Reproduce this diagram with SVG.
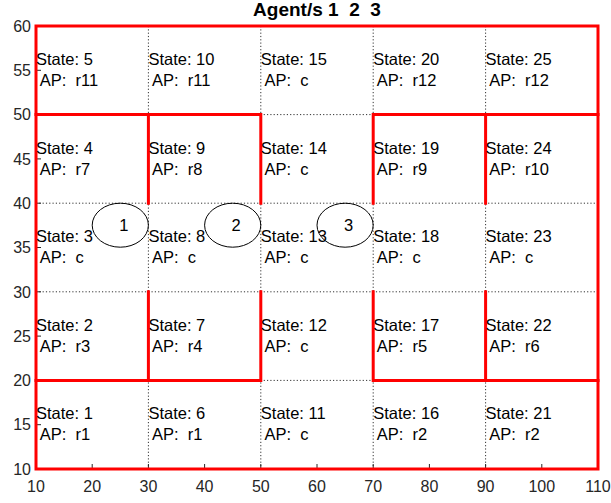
<svg xmlns="http://www.w3.org/2000/svg" width="611" height="503" viewBox="0 0 611 503">
<style>
text{font-family:"Liberation Sans",Arial,Helvetica,sans-serif;white-space:pre}
.st{font-size:16.5px;fill:#000}
.tk{font-size:16px;fill:#262626}
.yt{text-anchor:end}
.xt{text-anchor:middle}
.title{font-size:19px;font-weight:bold;fill:#000;text-anchor:middle}
.grid{stroke:#333;stroke-width:1;stroke-dasharray:1.2 2.1;fill:none}
.tick{stroke:#262626;stroke-width:1;fill:none}
.wall{stroke:#ff0000;stroke-width:3;fill:none;stroke-linecap:square}
.agent ellipse{fill:none;stroke:#000;stroke-width:1}
.agent text{font-size:16.5px;fill:#000;text-anchor:middle}
</style>
<rect width="611" height="503" fill="#fff"/>
<text class="title" x="317" y="16" xml:space="preserve">Agent/s 1  2  3</text>
<g id="grid">
<path class="grid" d="M148.4 26V469M260.8 26V469M373.2 26V469M485.6 26V469M36 114.6H598M36 203.2H598M36 291.8H598M36 380.4H598"/>
</g>
<g id="ticks">
<path class="tick" d="M92.2 469v-5M148.4 469v-5M204.6 469v-5M260.8 469v-5M317 469v-5M373.2 469v-5M429.4 469v-5M485.6 469v-5M541.8 469v-5M36 424.7h5M36 380.4h5M36 336.1h5M36 291.8h5M36 247.5h5M36 203.2h5M36 158.9h5M36 114.6h5M36 70.3h5"/>
<g class="tk">
<text class="yt" x="31" y="474.7">10</text>
<text class="yt" x="31" y="430.4">15</text>
<text class="yt" x="31" y="386.1">20</text>
<text class="yt" x="31" y="341.8">25</text>
<text class="yt" x="31" y="297.5">30</text>
<text class="yt" x="31" y="252.9">35</text>
<text class="yt" x="31" y="208.9">40</text>
<text class="yt" x="31" y="164.6">45</text>
<text class="yt" x="31" y="120.3">50</text>
<text class="yt" x="31" y="76">55</text>
<text class="yt" x="31" y="31.7">60</text>
<text class="xt" x="36" y="491.5">10</text>
<text class="xt" x="92.2" y="491.5">20</text>
<text class="xt" x="148.4" y="491.5">30</text>
<text class="xt" x="204.6" y="491.5">40</text>
<text class="xt" x="260.8" y="491.5">50</text>
<text class="xt" x="317" y="491.5">60</text>
<text class="xt" x="373.2" y="491.5">70</text>
<text class="xt" x="429.4" y="491.5">80</text>
<text class="xt" x="485.6" y="491.5">90</text>
<text class="xt" x="541.8" y="491.5">100</text>
<text class="xt" x="598" y="491.5">110</text>
</g>
</g>
<g id="walls">
<rect class="wall" x="36" y="26" width="562" height="443"/>
<path class="wall" d="M36 114.6H260.8M373.2 114.6H598M36 380.4H260.8M373.2 380.4H598M148.4 114.6V203.2M260.8 114.6V203.2M373.2 114.6V203.2M485.6 114.6V203.2M148.4 291.8V380.4M260.8 291.8V380.4M373.2 291.8V380.4M485.6 291.8V380.4"/>
</g>
<g id="states" class="st">
<g id="s1"><text x="36" y="419.4">State: 1</text><text x="36" y="440.4" xml:space="preserve"> AP:  r1</text></g>
<g id="s2"><text x="36" y="330.8">State: 2</text><text x="36" y="351.8" xml:space="preserve"> AP:  r3</text></g>
<g id="s3"><text x="36" y="242.2">State: 3</text><text x="36" y="263.2" xml:space="preserve"> AP:  c</text></g>
<g id="s4"><text x="36" y="153.6">State: 4</text><text x="36" y="174.6" xml:space="preserve"> AP:  r7</text></g>
<g id="s5"><text x="36" y="65">State: 5</text><text x="36" y="86" xml:space="preserve"> AP:  r11</text></g>
<g id="s6"><text x="148.4" y="419.4">State: 6</text><text x="148.4" y="440.4" xml:space="preserve"> AP:  r1</text></g>
<g id="s7"><text x="148.4" y="330.8">State: 7</text><text x="148.4" y="351.8" xml:space="preserve"> AP:  r4</text></g>
<g id="s8"><text x="148.4" y="242.2">State: 8</text><text x="148.4" y="263.2" xml:space="preserve"> AP:  c</text></g>
<g id="s9"><text x="148.4" y="153.6">State: 9</text><text x="148.4" y="174.6" xml:space="preserve"> AP:  r8</text></g>
<g id="s10"><text x="148.4" y="65">State: 10</text><text x="148.4" y="86" xml:space="preserve"> AP:  r11</text></g>
<g id="s11"><text x="260.8" y="419.4">State: 11</text><text x="260.8" y="440.4" xml:space="preserve"> AP:  c</text></g>
<g id="s12"><text x="260.8" y="330.8">State: 12</text><text x="260.8" y="351.8" xml:space="preserve"> AP:  c</text></g>
<g id="s13"><text x="260.8" y="242.2">State: 13</text><text x="260.8" y="263.2" xml:space="preserve"> AP:  c</text></g>
<g id="s14"><text x="260.8" y="153.6">State: 14</text><text x="260.8" y="174.6" xml:space="preserve"> AP:  c</text></g>
<g id="s15"><text x="260.8" y="65">State: 15</text><text x="260.8" y="86" xml:space="preserve"> AP:  c</text></g>
<g id="s16"><text x="373.2" y="419.4">State: 16</text><text x="373.2" y="440.4" xml:space="preserve"> AP:  r2</text></g>
<g id="s17"><text x="373.2" y="330.8">State: 17</text><text x="373.2" y="351.8" xml:space="preserve"> AP:  r5</text></g>
<g id="s18"><text x="373.2" y="242.2">State: 18</text><text x="373.2" y="263.2" xml:space="preserve"> AP:  c</text></g>
<g id="s19"><text x="373.2" y="153.6">State: 19</text><text x="373.2" y="174.6" xml:space="preserve"> AP:  r9</text></g>
<g id="s20"><text x="373.2" y="65">State: 20</text><text x="373.2" y="86" xml:space="preserve"> AP:  r12</text></g>
<g id="s21"><text x="485.6" y="419.4">State: 21</text><text x="485.6" y="440.4" xml:space="preserve"> AP:  r2</text></g>
<g id="s22"><text x="485.6" y="330.8">State: 22</text><text x="485.6" y="351.8" xml:space="preserve"> AP:  r6</text></g>
<g id="s23"><text x="485.6" y="242.2">State: 23</text><text x="485.6" y="263.2" xml:space="preserve"> AP:  c</text></g>
<g id="s24"><text x="485.6" y="153.6">State: 24</text><text x="485.6" y="174.6" xml:space="preserve"> AP:  r10</text></g>
<g id="s25"><text x="485.6" y="65">State: 25</text><text x="485.6" y="86" xml:space="preserve"> AP:  r12</text></g>
</g>
<g id="agent1" class="agent"><ellipse cx="120.3" cy="225.2" rx="28.1" ry="22"/><text x="123.8" y="231">1</text></g>
<g id="agent2" class="agent"><ellipse cx="232.7" cy="225.2" rx="28.1" ry="22"/><text x="236.2" y="231">2</text></g>
<g id="agent3" class="agent"><ellipse cx="345.1" cy="225.2" rx="28.1" ry="22"/><text x="348.6" y="231">3</text></g>
</svg>
